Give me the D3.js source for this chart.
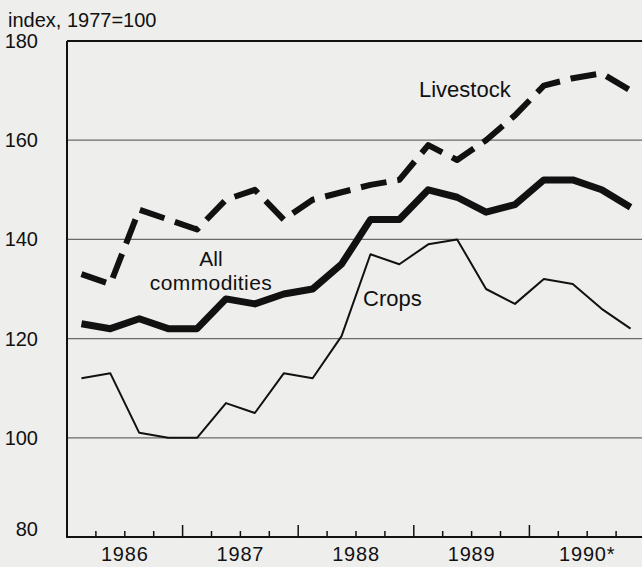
<!DOCTYPE html>
<html>
<head>
<meta charset="utf-8">
<script src="https://cdn.jsdelivr.net/npm/d3@7"></script>
<style>
  html, body { margin: 0; padding: 0; background: #eeeeec; }
  svg { display: block; }
  text { font-family: "Liberation Sans", Arial, Helvetica, sans-serif; fill: #111; }
</style>
</head>
<body>
<svg id="chart" width="642" height="567"></svg>
<script>
// ---- data ----
const quarters = [
  "1986Q1","1986Q2","1986Q3","1986Q4",
  "1987Q1","1987Q2","1987Q3","1987Q4",
  "1988Q1","1988Q2","1988Q3","1988Q4",
  "1989Q1","1989Q2","1989Q3","1989Q4",
  "1990Q1","1990Q2","1990Q3","1990Q4"
];
const yearLabels = ["1986", "1987", "1988", "1989", "1990*"];
const yTicks = [80, 100, 120, 140, 160, 180];

const crops = [112, 113, 101, 100, 100, 107, 105, 113, 112, 120.5,
               137, 135, 139, 140, 130, 127, 132, 131, 126, 122];
const allCommodities = [123, 122, 124, 122, 122, 128, 127, 129, 130, 135,
                        144, 144, 150, 148.5, 145.5, 147, 152, 152, 150, 146.5];
const livestock = [133, 131, 146, 144, 142, 148, 150, 144, 148, 149.5,
                   151, 152, 159, 156, 160, 165, 171, 172.5, 173.5, 170];

// ---- layout ----
const svg = d3.select("#chart");
const mLeft = 67, mRight = 645, mTop = 41, mBottom = 537;

const x = d3.scaleBand().domain(quarters).range([mLeft, mRight]).paddingInner(0).paddingOuter(0);
const y = d3.scaleLinear().domain([80, 180]).range([mBottom, mTop]);
const cx = q => x(q) + x.bandwidth() / 2;

// gridlines
svg.append("g").selectAll("line")
  .data(yTicks.filter(t => t > 80 && t < 180))
  .join("line")
  .attr("x1", mLeft).attr("x2", 642)
  .attr("y1", d => y(d)).attr("y2", d => y(d))
  .attr("stroke", "#6a6a6a").attr("stroke-width", 1.3);

// top frame line (180)
svg.append("line")
  .attr("x1", mLeft).attr("x2", 642)
  .attr("y1", y(180)).attr("y2", y(180))
  .attr("stroke", "#111").attr("stroke-width", 2);

// y axis line
svg.append("line")
  .attr("x1", mLeft).attr("x2", mLeft)
  .attr("y1", y(180)).attr("y2", y(80))
  .attr("stroke", "#111").attr("stroke-width", 2);

// x axis line
svg.append("line")
  .attr("x1", mLeft - 1).attr("x2", 642)
  .attr("y1", y(80)).attr("y2", y(80))
  .attr("stroke", "#111").attr("stroke-width", 2);

// x ticks at quarter boundaries
const tickData = quarters.map((q, i) => ({ q, i })).filter(d => d.i > 0);
svg.append("g").selectAll("line")
  .data(tickData)
  .join("line")
  .attr("x1", d => x(d.q)).attr("x2", d => x(d.q))
  .attr("y1", y(80))
  .attr("y2", d => y(80) - (d.i % 4 === 0 ? 12 : 6))
  .attr("stroke", "#111").attr("stroke-width", 1.5);

// year labels, centered on each year
svg.append("g").selectAll("text")
  .data(yearLabels)
  .join("text")
  .attr("x", (d, i) => {
    const q0 = quarters[i * 4], q3 = quarters[i * 4 + 3];
    return (x(q0) + x(q3) + x.bandwidth()) / 2;
  })
  .attr("y", 561)
  .attr("text-anchor", "middle")
  .attr("font-size", 20)
  .attr("letter-spacing", 0.8)
  .text(d => d);

// y tick labels
svg.append("g").selectAll("text")
  .data(yTicks)
  .join("text")
  .attr("x", 38)
  .attr("y", d => y(d) + (d === 80 ? -1 : 7))
  .attr("text-anchor", "end")
  .attr("font-size", 20)
  .text(d => d);

// unit label
svg.append("text")
  .attr("x", 8).attr("y", 27)
  .attr("font-size", 20)
  .text("index, 1977=100");

// lines
const line = d3.line().x((d, i) => cx(quarters[i])).y(d => y(d));

svg.append("path")
  .datum(crops)
  .attr("d", line)
  .attr("fill", "none")
  .attr("stroke", "#111")
  .attr("stroke-width", 2)
  .attr("stroke-linejoin", "round");

svg.append("path")
  .datum(allCommodities)
  .attr("d", line)
  .attr("fill", "none")
  .attr("stroke", "#111")
  .attr("stroke-width", 7)
  .attr("stroke-linejoin", "round");

svg.append("path")
  .datum(livestock)
  .attr("d", line)
  .attr("fill", "none")
  .attr("stroke", "#111")
  .attr("stroke-width", 6)
  .attr("stroke-dasharray", "26,11")
  .attr("stroke-linejoin", "round");

// series labels
svg.append("text").attr("x", 419).attr("y", 97).attr("font-size", 22).text("Livestock");
svg.append("text").attr("x", 211).attr("y", 266).attr("font-size", 21).attr("text-anchor", "middle").text("All");
svg.append("text").attr("x", 211).attr("y", 290).attr("font-size", 21).attr("text-anchor", "middle").attr("letter-spacing", 0.4).text("commodities");
svg.append("text").attr("x", 363).attr("y", 306).attr("font-size", 22).text("Crops");
</script>
</body>
</html>
